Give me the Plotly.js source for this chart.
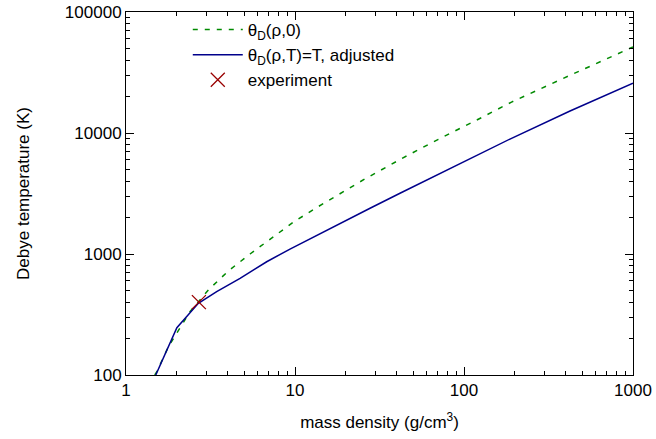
<!DOCTYPE html>
<html>
<head>
<meta charset="utf-8">
<script src="https://cdn.plot.ly/plotly-3.0.1.min.js"></script>
<style>html,body{margin:0;padding:0;background:#fff;}#chart{width:656px;height:439px;}</style>
</head>
<body>
<div id="chart"></div>
<script>
// theta_D(rho,0) curve (green dashed)
const rhoZero = [1.48, 1.52, 1.78, 2.0, 2.39, 3.07, 4.03, 5.42, 8.53, 9.86, 13.7, 18.9, 25.9, 42.8, 70.5, 119, 191, 387, 1000];
const thetaZero = [100, 106, 171, 221, 333, 504, 724, 1000, 1600, 1849, 2460, 3236, 4170, 6150, 8870, 12800, 18000, 28300, 51400];
// theta_D(rho,T)=T, adjusted (blue solid)
const rhoAdj = [1.50, 2.00, 2.68, 3.44, 4.73, 6.80, 9.34, 16.1, 27.8, 41.8, 94.7, 187, 424, 1000];
const thetaAdj = [100, 246, 391, 488, 630, 863, 1099, 1630, 2390, 3177, 5600, 8910, 15200, 25770];
// experiment
const rhoExp = [2.7];
const thetaExp = [400];

const names = ['θ<sub>D</sub>(ρ,0)', 'θ<sub>D</sub>(ρ,T)=T, adjusted', 'experiment'];
const xTickVals = [1, 10, 100, 1000];
const xTickText = ['1', '10', '100', '1000'];
const yTickVals = [100, 1000, 10000, 100000];
const yTickText = ['100', '1000', '10000', '100000'];
const FONT = 'Liberation Sans, Arial, Helvetica, sans-serif';

function minorVals(lo, hi) {
  const v = [];
  for (let p = lo; p < hi; p++) for (let d = 2; d <= 9; d++) v.push(d * Math.pow(10, p));
  return v;
}

const traces = [
  {x: rhoZero, y: thetaZero, name: names[0], mode: 'lines', type: 'scatter',
   line: {color: '#008a00', width: 1.5, dash: '5px,7px'}},
  {x: rhoAdj, y: thetaAdj, name: names[1], mode: 'lines', type: 'scatter',
   line: {color: '#00008b', width: 1.5}},
  {x: rhoExp, y: thetaExp, name: names[2], mode: 'markers', type: 'scatter',
   marker: {symbol: 'x-thin', size: 14, color: '#990000', line: {color: '#990000', width: 1.3}}}
];

function axis(extra, minor) {
  return Object.assign({
    type: 'log', showgrid: false, zeroline: false,
    showline: true, linecolor: '#000', linewidth: 1, mirror: 'allticks',
    ticks: 'inside', ticklen: 8, tickcolor: '#000', tickwidth: 1,
    minor: {ticks: 'inside', ticklen: 4, tickcolor: '#000', tickwidth: 1, showgrid: false, tickvals: minor},
    tickfont: {family: FONT, size: 17, color: '#000'}
  }, extra);
}

const layout = {
  width: 656, height: 439,
  margin: {l: 126, r: 23, t: 12, b: 64},
  paper_bgcolor: '#fff', plot_bgcolor: '#fff',
  font: {family: FONT, size: 17, color: '#000'},
  showlegend: true,
  legend: {x: 0.54, xanchor: 'right', y: 1.0, yanchor: 'top', bgcolor: 'rgba(0,0,0,0)',
           font: {family: FONT, size: 17, color: '#000'}, itemwidth: 50, tracegroupgap: 0},
  xaxis: axis({
    range: [0, 3], tickvals: xTickVals, ticktext: xTickText,
    title: {text: 'mass density (g/cm<sup>3</sup>)', font: {family: FONT, size: 17}, standoff: 16}
  }, minorVals(0, 3)),
  yaxis: axis({
    range: [2, 5], tickvals: yTickVals, ticktext: yTickText,
    title: {text: 'Debye temperature (K)', font: {family: FONT, size: 17}, standoff: 30}
  }, minorVals(2, 5))
};

Plotly.newPlot('chart', traces, layout, {displayModeBar: false, staticPlot: true});
</script>
</body>
</html>
